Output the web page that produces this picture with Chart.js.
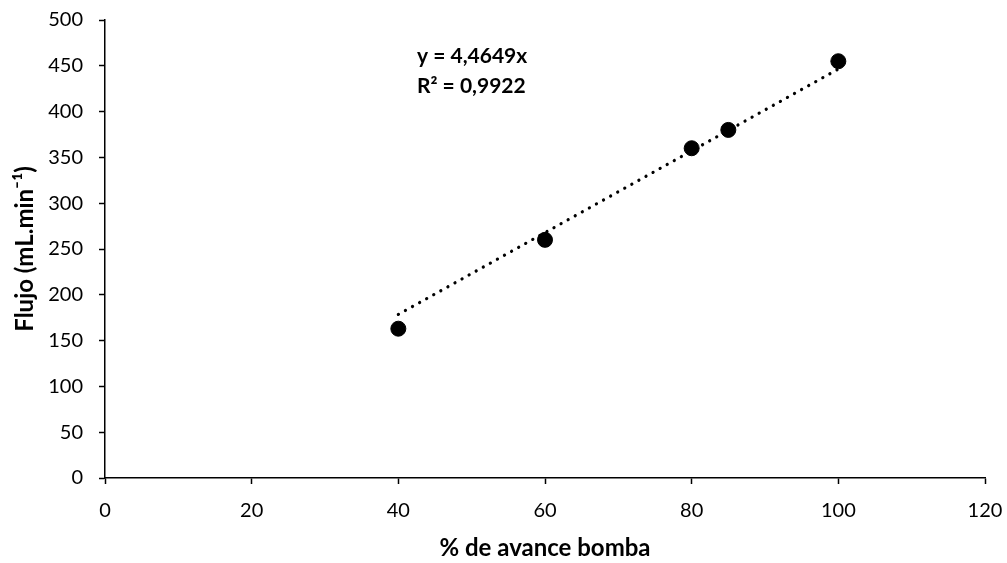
<!DOCTYPE html>
<html>
<head>
<meta charset="utf-8">
<script src="https://cdn.jsdelivr.net/npm/chart.js@4/dist/chart.umd.min.js"></script>
<style>
html,body{margin:0;padding:0;background:#fff;}
#wrap{width:1007px;height:563px;}
</style>
</head>
<body>
<div id="wrap"><canvas id="c" width="1007" height="563"></canvas></div>
<script>
const avance = [40, 60, 80, 85, 100];
const flujo = [163, 260, 360, 380, 455];
const trendX = [40, 100];
const trendY = [178.6, 446.5];
const xTicks = [0, 20, 40, 60, 80, 100, 120];
const yTicks = [0, 50, 100, 150, 200, 250, 300, 350, 400, 450, 500];
const eqLines = ['y = 4,4649x', 'R² = 0,9922'];

const FONT = 'Lato, "Open Sans", sans-serif';

const eqPlugin = {
  id: 'eq',
  afterDatasetsDraw(chart) {
    const ctx = chart.ctx;
    const a = chart.chartArea;
    ctx.save();
    ctx.fillStyle = '#000';
    ctx.font = 'bold 21px ' + FONT;
    ctx.textAlign = 'left';
    ctx.textBaseline = 'middle';
    ctx.fillText(eqLines[0], a.left + 312, a.top + 36);
    ctx.fillText(eqLines[1], a.left + 312, a.top + 66);
    ctx.restore();
  }
};

new Chart(document.getElementById('c'), {
  type: 'scatter',
  data: {
    datasets: [
      {
        label: 'Flujo',
        data: avance.map((x, i) => ({x: x, y: flujo[i]})),
        backgroundColor: '#000',
        borderColor: '#000',
        pointRadius: 7.5,
        pointHoverRadius: 7.5,
        order: 1
      },
      {
        label: 'Tendencia',
        type: 'line',
        data: trendX.map((x, i) => ({x: x, y: trendY[i]})),
        borderColor: '#000',
        borderWidth: 3.2,
        borderDash: [0.1, 8],
        borderCapStyle: 'round',
        pointRadius: 0,
        fill: false,
        order: 2
      }
    ]
  },
  options: {
    responsive: false,
    animation: false,
    events: [],
    layout: {padding: {top: 20, right: 22, left: 0, bottom: 0}},
    plugins: {legend: {display: false}, tooltip: {enabled: false}},
    scales: {
      x: {
        type: 'linear',
        min: 0, max: 120,
        afterBuildTicks(s) { s.ticks = xTicks.map(v => ({value: v})); },
        afterFit(s) { s.height = 85; s.paddingLeft = 0; s.paddingRight = 0; },
        grid: {drawOnChartArea: false, drawTicks: true, tickLength: 6, tickColor: '#000', tickWidth: 1.5},
        border: {display: true, color: '#000', width: 1.5},
        ticks: {color: '#000', font: {family: FONT, size: 20}, padding: 15, maxRotation: 0},
        title: {display: true, text: '% de avance bomba', color: '#000', font: {family: FONT, size: 24, weight: 'bold'}, padding: {top: 3, bottom: 0}}
      },
      y: {
        type: 'linear',
        min: 0, max: 500,
        afterBuildTicks(s) { s.ticks = yTicks.map(v => ({value: v})); },
        afterFit(s) { s.width = 105; s.paddingTop = 0; s.paddingBottom = 0; },
        grid: {drawOnChartArea: false, drawTicks: true, tickLength: 6, tickColor: '#000', tickWidth: 1.5},
        border: {display: true, color: '#000', width: 1.5},
        ticks: {color: '#000', font: {family: FONT, size: 20}, padding: 16},
        title: {display: true, text: 'Flujo (mL.min⁻¹)', color: '#000', font: {family: FONT, size: 24, weight: 'bold'}, padding: {top: 11, bottom: 0}}
      }
    }
  },
  plugins: [eqPlugin]
});
</script>
</body>
</html>
